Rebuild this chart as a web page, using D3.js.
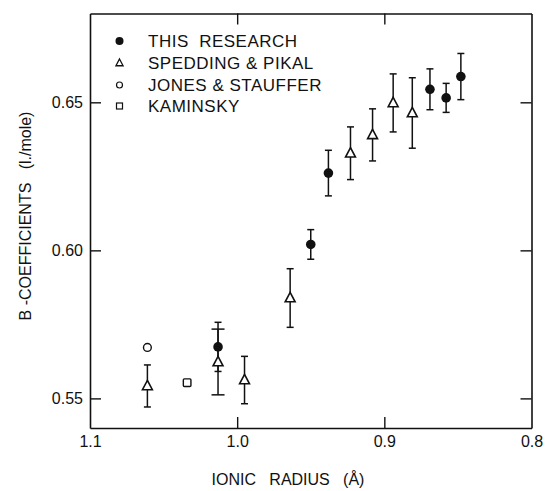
<!DOCTYPE html>
<html>
<head>
<meta charset="utf-8">
<script src="https://cdn.jsdelivr.net/npm/d3@7"></script>
<style>
  html, body { margin: 0; padding: 0; background: #fff; }
  svg { display: block; }
  text { font-family: "Liberation Sans", Arial, sans-serif; fill: #111; }
</style>
</head>
<body>
<svg id="chart" width="547" height="491"></svg>
<script>
// Viscosity B-coefficients of rare-earth salts vs. ionic radius
const xTicks = [1.1, 1.0, 0.9, 0.8];
const yTicks = [0.55, 0.60, 0.65];

// This research
const thisResearchRadius = [1.013, 0.950, 0.938, 0.869, 0.858, 0.848];
const thisResearchB      = [0.5674, 0.6020, 0.6261, 0.6544, 0.6515, 0.6587];
const thisResearchErr    = [0.0083, 0.0050, 0.0077, 0.0069, 0.0049, 0.0078];

// Spedding & Pikal
const speddingRadius = [1.061, 1.013, 0.995, 0.964, 0.923, 0.908, 0.894, 0.881];
const speddingB      = [0.5542, 0.5623, 0.5562, 0.5839, 0.6328, 0.6390, 0.6498, 0.6464];
const speddingErr    = [0.0071, 0.0111, 0.0080, 0.0099, 0.0089, 0.0088, 0.0098, 0.0119];

// Jones & Stauffer
const jonesRadius = [1.061];
const jonesB      = [0.5672];

// Kaminsky
const kaminskyRadius = [1.034];
const kaminskyB      = [0.5553];

const legendLabels = ["THIS  RESEARCH", "SPEDDING & PIKAL", "JONES & STAUFFER", "KAMINSKY"];

const svg = d3.select("#chart");
const plotLeft = 90, plotRight = 531.5, plotTop = 13.5, plotBottom = 428;

const x = d3.scaleLinear().domain([1.1, 0.8]).range([plotLeft, plotRight]);
const y = d3.scaleLinear().domain([0.54, 0.68]).range([plotBottom, plotTop]);

const ink = "#111";

// Axes with inward ticks on all four sides
const gB = svg.append("g").attr("transform", `translate(0,${plotBottom})`)
  .call(d3.axisBottom(x).tickValues(xTicks).tickFormat(d3.format(".1f"))
    .tickSizeInner(-11).tickSizeOuter(0).tickPadding(8));
const gT = svg.append("g").attr("transform", `translate(0,${plotTop})`)
  .call(d3.axisTop(x).tickValues(xTicks).tickFormat("")
    .tickSizeInner(-11).tickSizeOuter(0));
const gL = svg.append("g").attr("transform", `translate(${plotLeft},0)`)
  .call(d3.axisLeft(y).tickValues(yTicks).tickFormat(d3.format(".2f"))
    .tickSizeInner(-11).tickSizeOuter(0).tickPadding(7));
const gR = svg.append("g").attr("transform", `translate(${plotRight},0)`)
  .call(d3.axisRight(y).tickValues(yTicks).tickFormat("")
    .tickSizeInner(-11).tickSizeOuter(0));

[gB, gT, gL, gR].forEach(g => {
  g.select(".domain").attr("stroke", ink).attr("stroke-width", 1.6);
  g.selectAll(".tick line").attr("stroke", ink).attr("stroke-width", 1.4);
  g.selectAll(".tick text").attr("font-size", 16)
    .attr("font-family", "'Liberation Sans', Arial, sans-serif").attr("fill", ink);
});
// end ticks coincide with the frame
gB.selectAll(".tick").filter(d => d === 1.1 || d === 0.8).select("line").remove();
gT.selectAll(".tick").filter(d => d === 1.1 || d === 0.8).select("line").remove();

// Axis titles
svg.append("text")
  .attr("x", 288).attr("y", 485)
  .attr("text-anchor", "middle").attr("font-size", 16)
  .style("white-space", "pre")
  .text("IONIC   RADIUS   (Å)");

svg.append("text")
  .attr("transform", "translate(31,216) rotate(-90)")
  .attr("text-anchor", "middle").attr("font-size", 16)
  .style("white-space", "pre")
  .text("B -COEFFICIENTS   (l./mole)");

// Error bars
function errorBars(radius, vals, errs, capHalf) {
  const g = svg.append("g").attr("stroke", ink).attr("stroke-width", 1.5).attr("fill", "none");
  radius.forEach((r, i) => {
    const cx = x(r), y0 = y(vals[i] - errs[i]), y1 = y(vals[i] + errs[i]);
    const h = capHalf(i);
    g.append("line").attr("x1", cx).attr("x2", cx).attr("y1", y0).attr("y2", y1);
    g.append("line").attr("x1", cx - h).attr("x2", cx + h).attr("y1", y0).attr("y2", y0);
    g.append("line").attr("x1", cx - h).attr("x2", cx + h).attr("y1", y1).attr("y2", y1);
  });
}
errorBars(speddingRadius, speddingB, speddingErr, i => (speddingRadius[i] === 1.013 ? 6.5 : 3.5));
errorBars(thisResearchRadius, thisResearchB, thisResearchErr, () => 3.5);

// Markers
const triangle = s => `M0,${-s * 0.62} L${s * 0.55},${s * 0.42} L${-s * 0.55},${s * 0.42} Z`;

svg.append("g").selectAll("path")
  .data(speddingRadius.map((r, i) => [r, speddingB[i]]))
  .join("path")
  .attr("transform", d => `translate(${x(d[0])},${y(d[1])})`)
  .attr("d", triangle(9))
  .attr("fill", "#fff").attr("stroke", ink).attr("stroke-width", 1.6);

svg.append("g").selectAll("circle")
  .data(thisResearchRadius.map((r, i) => [r, thisResearchB[i]]))
  .join("circle")
  .attr("cx", d => x(d[0])).attr("cy", d => y(d[1])).attr("r", 4.8)
  .attr("fill", ink);

svg.append("g").selectAll("circle")
  .data(jonesRadius.map((r, i) => [r, jonesB[i]]))
  .join("circle")
  .attr("cx", d => x(d[0])).attr("cy", d => y(d[1])).attr("r", 3.9)
  .attr("fill", "#fff").attr("stroke", ink).attr("stroke-width", 1.4);

svg.append("g").selectAll("rect")
  .data(kaminskyRadius.map((r, i) => [r, kaminskyB[i]]))
  .join("rect")
  .attr("x", d => x(d[0]) - 3.8).attr("y", d => y(d[1]) - 3.8)
  .attr("width", 7.6).attr("height", 7.6).attr("rx", 1)
  .attr("fill", "#fff").attr("stroke", ink).attr("stroke-width", 1.4);

// Legend
const legend = svg.append("g");
const rowsY = [47, 69, 91, 112];
legendLabels.forEach((lab, i) => {
  const cy = rowsY[i] - 6, cx = 119.5;
  if (i === 0) legend.append("circle").attr("cx", cx).attr("cy", cy).attr("r", 4).attr("fill", ink);
  if (i === 1) legend.append("path").attr("transform", `translate(${cx},${cy})`).attr("d", triangle(6.5))
    .attr("fill", "#fff").attr("stroke", ink).attr("stroke-width", 1.3);
  if (i === 2) legend.append("circle").attr("cx", cx).attr("cy", cy).attr("r", 3)
    .attr("fill", "#fff").attr("stroke", ink).attr("stroke-width", 1.2);
  if (i === 3) legend.append("rect").attr("x", cx - 3).attr("y", cy - 3).attr("width", 6).attr("height", 6)
    .attr("fill", "#fff").attr("stroke", ink).attr("stroke-width", 1.2);
  legend.append("text").attr("x", 148).attr("y", rowsY[i])
    .attr("font-size", 17).style("white-space", "pre").style("letter-spacing", "0.5px")
    .text(lab);
});
</script>
</body>
</html>
